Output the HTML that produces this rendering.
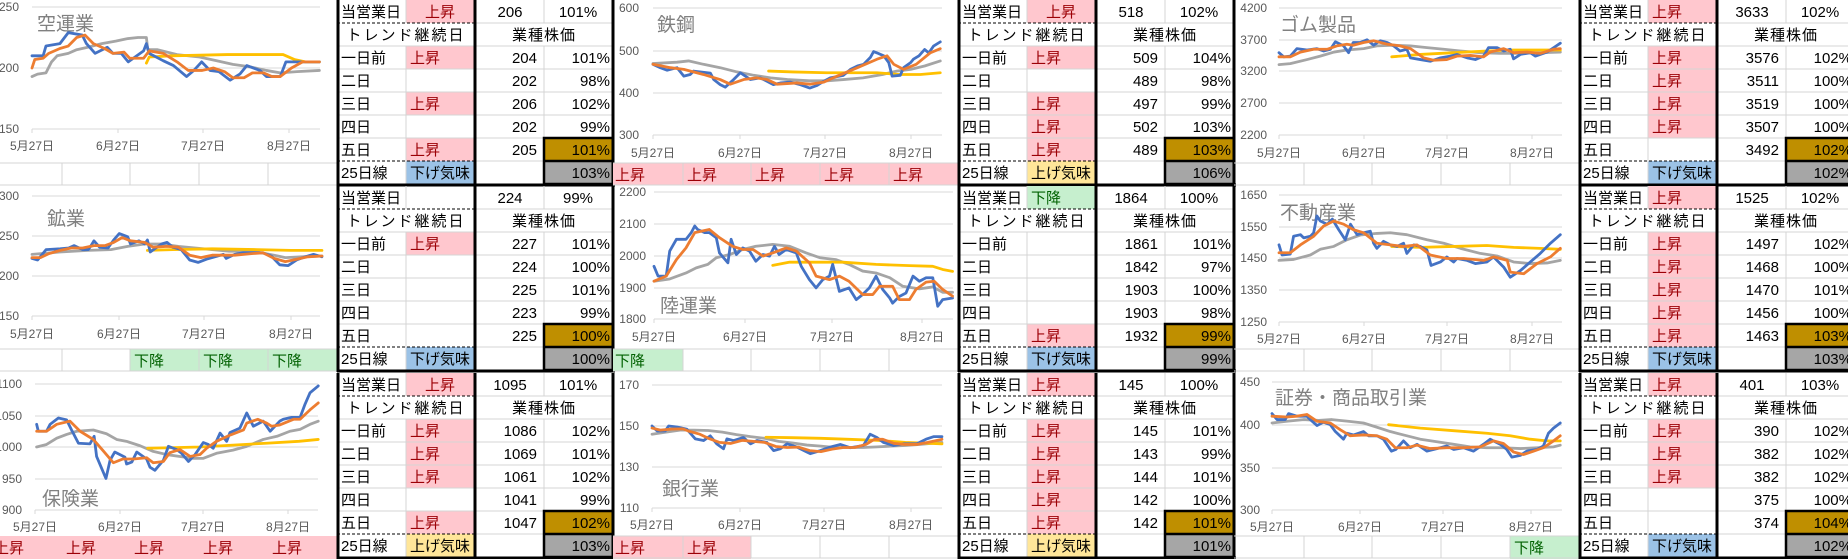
<!DOCTYPE html>
<html><head><meta charset="utf-8"><style>
html,body{margin:0;padding:0;background:#fff;}
svg{display:block;font-family:"Liberation Sans","Noto Sans CJK JP",sans-serif;}
.ax{font-size:12px;fill:#595959;}
.ti{font-size:19px;fill:#808080;}
.tb{font-size:15px;fill:#000;}
.up{font-size:15px;fill:#9c0006;}
.dn{font-size:15px;fill:#006100;}
.gr{stroke:#d9d9d9;stroke-width:1;}
.sl{fill:none;stroke-width:2.8;stroke-linejoin:round;stroke-linecap:round;vector-effect:non-scaling-stroke;}
.b{stroke:#4472c4}.o{stroke:#ed7d31}.g{stroke:#a5a5a5}.y{stroke:#ffc000}
</style></head><body>
<svg width="1848" height="559" viewBox="0 0 1848 559" xmlns="http://www.w3.org/2000/svg">
<rect width="1848" height="559" fill="#fff"/>

<!-- ================= STRIPS (bottom rows under charts) ================= -->
<defs>
<g id="strip">
<line x1="-8" y1="163" x2="337" y2="163" stroke="#d4d4d4"/>
<line x1="-8" y1="185" x2="337" y2="185" stroke="#d4d4d4"/>
<line x1="62" y1="163" x2="62" y2="185" stroke="#d4d4d4"/>
<line x1="130" y1="163" x2="130" y2="185" stroke="#d4d4d4"/>
<line x1="199" y1="163" x2="199" y2="185" stroke="#d4d4d4"/>
<line x1="268" y1="163" x2="268" y2="185" stroke="#d4d4d4"/>
</g>
<g id="tgrid">
<g stroke="#d4d4d4" stroke-width="1">
<line x1="337" y1="46" x2="613" y2="46"/><line x1="337" y1="69" x2="613" y2="69"/>
<line x1="337" y1="92" x2="613" y2="92"/><line x1="337" y1="115" x2="613" y2="115"/>
<line x1="337" y1="138" x2="613" y2="138"/><line x1="475" y1="23" x2="613" y2="23"/>
<line x1="475" y1="161" x2="613" y2="161"/>
<line x1="406" y1="0" x2="406" y2="23"/><line x1="406" y1="46" x2="406" y2="184"/>
<line x1="544" y1="0" x2="544" y2="23"/><line x1="544" y1="46" x2="544" y2="184"/>
</g>
<line x1="337" y1="23" x2="475" y2="23" stroke="#000" stroke-dasharray="3,2"/>
<line x1="337" y1="161" x2="475" y2="161" stroke="#000" stroke-dasharray="3,2"/>
<text class="tb" x="406" y="40" text-anchor="middle" fill="#404040" letter-spacing="2">トレンド継続日</text>
<text class="tb" x="544" y="40" text-anchor="middle" letter-spacing="1">業種株価</text>
<text class="tb" x="341" y="17">当営業日</text>
<text class="tb" x="341" y="63">一日前</text>
<text class="tb" x="341" y="86">二日</text>
<text class="tb" x="341" y="109">三日</text>
<text class="tb" x="341" y="132">四日</text>
<text class="tb" x="341" y="155">五日</text>
<text class="tb" x="341" y="178">25日線</text>
</g>
<g id="tborder" fill="none" stroke="#000">
<line x1="338" y1="0" x2="338" y2="186" stroke-width="3"/>
<line x1="475" y1="0" x2="475" y2="186" stroke-width="3"/>
<line x1="613" y1="0" x2="613" y2="186" stroke-width="3"/>
<line x1="337" y1="185" x2="615" y2="185" stroke-width="3"/>
<rect x="544" y="138" width="69" height="46" stroke-width="2.5"/>
<line x1="544" y1="161" x2="613" y2="161" stroke-width="2.5"/>
</g>
</defs>

<!-- ======== Table helper macro expanded per panel ======== -->
<!-- G1R1 -->
<g transform="translate(0,0)">
<use href="#strip"/>
<rect x="406" y="0" width="69" height="23" fill="#ffc7ce"/>
<rect x="406" y="46" width="69" height="23" fill="#ffc7ce"/>
<rect x="406" y="92" width="69" height="23" fill="#ffc7ce"/>
<rect x="406" y="138" width="69" height="23" fill="#ffc7ce"/>
<rect x="406" y="161" width="69" height="23" fill="#9bc2e6"/>
<rect x="544" y="138" width="69" height="23" fill="#bf8f00"/>
<rect x="544" y="161" width="69" height="23" fill="#a6a6a6"/>
<use href="#tgrid"/>
<text class="up" x="440" y="17" text-anchor="middle">上昇</text>
<text class="up" x="410" y="63">上昇</text><text class="up" x="410" y="109">上昇</text><text class="up" x="410" y="155">上昇</text>
<text class="tb" x="410" y="178" fill="#1f2d4a">下げ気味</text>
<text class="tb" x="510" y="17" text-anchor="middle">206</text><text class="tb" x="578" y="17" text-anchor="middle">101%</text>
<g class="tb" text-anchor="end"><text x="537" y="63">204</text><text x="537" y="86">202</text><text x="537" y="109">206</text><text x="537" y="132">202</text><text x="537" y="155">205</text>
<text x="610" y="63">101%</text><text x="610" y="86">98%</text><text x="610" y="109">102%</text><text x="610" y="132">99%</text><text x="610" y="155">101%</text><text x="610" y="178">103%</text></g>
<use href="#tborder"/>
</g>
<!-- G2R1 -->
<g transform="translate(621,0)">
<rect x="-8" y="163" width="345" height="22" fill="#ffc7ce"/>
<use href="#strip"/>
<g class="up"><text x="-6" y="180">上昇</text><text x="66" y="180">上昇</text><text x="134" y="180">上昇</text><text x="203" y="180">上昇</text><text x="272" y="180">上昇</text></g>
<rect x="406" y="0" width="69" height="23" fill="#ffc7ce"/>
<rect x="406" y="46" width="69" height="23" fill="#ffc7ce"/>
<rect x="406" y="92" width="69" height="69" fill="#ffc7ce"/>
<rect x="406" y="161" width="69" height="23" fill="#ffe699"/>
<rect x="544" y="138" width="69" height="23" fill="#bf8f00"/>
<rect x="544" y="161" width="69" height="23" fill="#a6a6a6"/>
<use href="#tgrid"/>
<text class="up" x="440" y="17" text-anchor="middle">上昇</text>
<text class="up" x="410" y="63">上昇</text><text class="up" x="410" y="109">上昇</text><text class="up" x="410" y="132">上昇</text><text class="up" x="410" y="155">上昇</text>
<text class="tb" x="410" y="178" fill="#9c5700">上げ気味</text>
<text class="tb" x="510" y="17" text-anchor="middle">518</text><text class="tb" x="578" y="17" text-anchor="middle">102%</text>
<g class="tb" text-anchor="end"><text x="537" y="63">509</text><text x="537" y="86">489</text><text x="537" y="109">497</text><text x="537" y="132">502</text><text x="537" y="155">489</text>
<text x="610" y="63">104%</text><text x="610" y="86">98%</text><text x="610" y="109">99%</text><text x="610" y="132">103%</text><text x="610" y="155">103%</text><text x="610" y="178">106%</text></g>
<use href="#tborder"/>
</g>
<!-- G3R1 -->
<g transform="translate(1242,0)">
<use href="#strip"/>
<rect x="406" y="0" width="69" height="23" fill="#ffc7ce"/>
<rect x="406" y="46" width="69" height="92" fill="#ffc7ce"/>
<rect x="406" y="161" width="69" height="23" fill="#9bc2e6"/>
<rect x="544" y="138" width="69" height="23" fill="#bf8f00"/>
<rect x="544" y="161" width="69" height="23" fill="#a6a6a6"/>
<use href="#tgrid"/>
<text class="up" x="410" y="17">上昇</text>
<text class="up" x="410" y="63">上昇</text><text class="up" x="410" y="86">上昇</text><text class="up" x="410" y="109">上昇</text><text class="up" x="410" y="132">上昇</text>
<text class="tb" x="410" y="178" fill="#1f2d4a">下げ気味</text>
<text class="tb" x="510" y="17" text-anchor="middle">3633</text><text class="tb" x="578" y="17" text-anchor="middle">102%</text>
<g class="tb" text-anchor="end"><text x="537" y="63">3576</text><text x="537" y="86">3511</text><text x="537" y="109">3519</text><text x="537" y="132">3507</text><text x="537" y="155">3492</text>
<text x="610" y="63">102%</text><text x="610" y="86">100%</text><text x="610" y="109">100%</text><text x="610" y="132">100%</text><text x="610" y="155">102%</text><text x="610" y="178">102%</text></g>
<use href="#tborder"/>
</g>
<!-- G1R2 -->
<g transform="translate(0,186)">
<rect x="130" y="163" width="207" height="22" fill="#c6efce"/>
<use href="#strip"/>
<g class="dn"><text x="134" y="180">下降</text><text x="203" y="180">下降</text><text x="272" y="180">下降</text></g>
<rect x="406" y="46" width="69" height="23" fill="#ffc7ce"/>
<rect x="406" y="161" width="69" height="23" fill="#9bc2e6"/>
<rect x="544" y="138" width="69" height="23" fill="#bf8f00"/>
<rect x="544" y="161" width="69" height="23" fill="#a6a6a6"/>
<use href="#tgrid"/>
<text class="up" x="410" y="63">上昇</text>
<text class="tb" x="410" y="178" fill="#1f2d4a">下げ気味</text>
<text class="tb" x="510" y="17" text-anchor="middle">224</text><text class="tb" x="578" y="17" text-anchor="middle">99%</text>
<g class="tb" text-anchor="end"><text x="537" y="63">227</text><text x="537" y="86">224</text><text x="537" y="109">225</text><text x="537" y="132">223</text><text x="537" y="155">225</text>
<text x="610" y="63">101%</text><text x="610" y="86">100%</text><text x="610" y="109">101%</text><text x="610" y="132">99%</text><text x="610" y="155">100%</text><text x="610" y="178">100%</text></g>
<use href="#tborder"/>
</g>
<!-- G2R2 -->
<g transform="translate(621,186)">
<rect x="-8" y="163" width="70" height="22" fill="#c6efce"/>
<use href="#strip"/>
<text class="dn" x="-6" y="180">下降</text>
<rect x="406" y="0" width="69" height="23" fill="#c6efce"/>
<rect x="406" y="138" width="69" height="23" fill="#ffc7ce"/>
<rect x="406" y="161" width="69" height="23" fill="#9bc2e6"/>
<rect x="544" y="138" width="69" height="23" fill="#bf8f00"/>
<rect x="544" y="161" width="69" height="23" fill="#a6a6a6"/>
<use href="#tgrid"/>
<text class="dn" x="410" y="17">下降</text>
<text class="up" x="410" y="155">上昇</text>
<text class="tb" x="410" y="178" fill="#1f2d4a">下げ気味</text>
<text class="tb" x="510" y="17" text-anchor="middle">1864</text><text class="tb" x="578" y="17" text-anchor="middle">100%</text>
<g class="tb" text-anchor="end"><text x="537" y="63">1861</text><text x="537" y="86">1842</text><text x="537" y="109">1903</text><text x="537" y="132">1903</text><text x="537" y="155">1932</text>
<text x="610" y="63">101%</text><text x="610" y="86">97%</text><text x="610" y="109">100%</text><text x="610" y="132">98%</text><text x="610" y="155">99%</text><text x="610" y="178">99%</text></g>
<use href="#tborder"/>
</g>
<!-- G3R2 -->
<g transform="translate(1242,186)">
<use href="#strip"/>
<rect x="406" y="0" width="69" height="23" fill="#ffc7ce"/>
<rect x="406" y="46" width="69" height="115" fill="#ffc7ce"/>
<rect x="406" y="161" width="69" height="23" fill="#9bc2e6"/>
<rect x="544" y="138" width="69" height="23" fill="#bf8f00"/>
<rect x="544" y="161" width="69" height="23" fill="#a6a6a6"/>
<use href="#tgrid"/>
<text class="up" x="410" y="17">上昇</text>
<text class="up" x="410" y="63">上昇</text><text class="up" x="410" y="86">上昇</text><text class="up" x="410" y="109">上昇</text><text class="up" x="410" y="132">上昇</text><text class="up" x="410" y="155">上昇</text>
<text class="tb" x="410" y="178" fill="#1f2d4a">下げ気味</text>
<text class="tb" x="510" y="17" text-anchor="middle">1525</text><text class="tb" x="578" y="17" text-anchor="middle">102%</text>
<g class="tb" text-anchor="end"><text x="537" y="63">1497</text><text x="537" y="86">1468</text><text x="537" y="109">1470</text><text x="537" y="132">1456</text><text x="537" y="155">1463</text>
<text x="610" y="63">102%</text><text x="610" y="86">100%</text><text x="610" y="109">101%</text><text x="610" y="132">100%</text><text x="610" y="155">103%</text><text x="610" y="178">103%</text></g>
<use href="#tborder"/>
</g>
<!-- G1R3 -->
<g transform="translate(0,373)">
<rect x="-8" y="163" width="345" height="23" fill="#ffc7ce"/>
<g class="up"><text x="-6" y="180">上昇</text><text x="66" y="180">上昇</text><text x="134" y="180">上昇</text><text x="203" y="180">上昇</text><text x="272" y="180">上昇</text></g>
<rect x="406" y="0" width="69" height="23" fill="#ffc7ce"/>
<rect x="406" y="46" width="69" height="69" fill="#ffc7ce"/>
<rect x="406" y="138" width="69" height="23" fill="#ffc7ce"/>
<rect x="406" y="161" width="69" height="23" fill="#ffe699"/>
<rect x="544" y="138" width="69" height="23" fill="#bf8f00"/>
<rect x="544" y="161" width="69" height="23" fill="#a6a6a6"/>
<use href="#tgrid"/>
<text class="up" x="440" y="17" text-anchor="middle">上昇</text>
<text class="up" x="410" y="63">上昇</text><text class="up" x="410" y="86">上昇</text><text class="up" x="410" y="109">上昇</text><text class="up" x="410" y="155">上昇</text>
<text class="tb" x="410" y="178" fill="#9c5700">上げ気味</text>
<text class="tb" x="510" y="17" text-anchor="middle">1095</text><text class="tb" x="578" y="17" text-anchor="middle">101%</text>
<g class="tb" text-anchor="end"><text x="537" y="63">1086</text><text x="537" y="86">1069</text><text x="537" y="109">1061</text><text x="537" y="132">1041</text><text x="537" y="155">1047</text>
<text x="610" y="63">102%</text><text x="610" y="86">101%</text><text x="610" y="109">102%</text><text x="610" y="132">99%</text><text x="610" y="155">102%</text><text x="610" y="178">103%</text></g>
<use href="#tborder"/>
</g>
<!-- G2R3 -->
<g transform="translate(621,373)">
<rect x="-8" y="163" width="138" height="23" fill="#ffc7ce"/>
<use href="#strip"/>
<g class="up"><text x="-6" y="180">上昇</text><text x="66" y="180">上昇</text></g>
<rect x="406" y="0" width="69" height="23" fill="#ffc7ce"/>
<rect x="406" y="46" width="69" height="115" fill="#ffc7ce"/>
<rect x="406" y="161" width="69" height="23" fill="#ffe699"/>
<rect x="544" y="138" width="69" height="23" fill="#bf8f00"/>
<rect x="544" y="161" width="69" height="23" fill="#a6a6a6"/>
<use href="#tgrid"/>
<text class="up" x="410" y="17">上昇</text>
<text class="up" x="410" y="63">上昇</text><text class="up" x="410" y="86">上昇</text><text class="up" x="410" y="109">上昇</text><text class="up" x="410" y="132">上昇</text><text class="up" x="410" y="155">上昇</text>
<text class="tb" x="410" y="178" fill="#9c5700">上げ気味</text>
<text class="tb" x="510" y="17" text-anchor="middle">145</text><text class="tb" x="578" y="17" text-anchor="middle">100%</text>
<g class="tb" text-anchor="end"><text x="537" y="63">145</text><text x="537" y="86">143</text><text x="537" y="109">144</text><text x="537" y="132">142</text><text x="537" y="155">142</text>
<text x="610" y="63">101%</text><text x="610" y="86">99%</text><text x="610" y="109">101%</text><text x="610" y="132">100%</text><text x="610" y="155">101%</text><text x="610" y="178">101%</text></g>
<use href="#tborder"/>
</g>
<!-- G3R3 -->
<g transform="translate(1242,373)">
<rect x="268" y="163" width="69" height="23" fill="#c6efce"/>
<use href="#strip"/>
<text class="dn" x="272" y="180">下降</text>
<rect x="406" y="0" width="69" height="23" fill="#ffc7ce"/>
<rect x="406" y="46" width="69" height="69" fill="#ffc7ce"/>
<rect x="406" y="161" width="69" height="23" fill="#9bc2e6"/>
<rect x="544" y="138" width="69" height="23" fill="#bf8f00"/>
<rect x="544" y="161" width="69" height="23" fill="#a6a6a6"/>
<use href="#tgrid"/>
<text class="up" x="410" y="17">上昇</text>
<text class="up" x="410" y="63">上昇</text><text class="up" x="410" y="86">上昇</text><text class="up" x="410" y="109">上昇</text>
<text class="tb" x="410" y="178" fill="#1f2d4a">下げ気味</text>
<text class="tb" x="510" y="17" text-anchor="middle">401</text><text class="tb" x="578" y="17" text-anchor="middle">103%</text>
<g class="tb" text-anchor="end"><text x="537" y="63">390</text><text x="537" y="86">382</text><text x="537" y="109">382</text><text x="537" y="132">375</text><text x="537" y="155">374</text>
<text x="610" y="63">102%</text><text x="610" y="86">102%</text><text x="610" y="109">102%</text><text x="610" y="132">100%</text><text x="610" y="155">104%</text><text x="610" y="178">102%</text></g>
<use href="#tborder"/>
</g>

<!-- ================= CHARTS ================= -->
<!-- G1R1 空運業 -->
<g transform="translate(0,0)">
<g class="gr"><line x1="32" y1="7" x2="320" y2="7"/><line x1="32" y1="68" x2="320" y2="68"/><line x1="32" y1="129" x2="320" y2="129"/>
<line x1="32" y1="129" x2="32" y2="133"/><line x1="118" y1="129" x2="118" y2="133"/><line x1="203" y1="129" x2="203" y2="133"/><line x1="289" y1="129" x2="289" y2="133"/></g>
<g class="ax" text-anchor="end"><text x="19" y="11">250</text><text x="19" y="72">200</text><text x="19" y="133">150</text></g>
<g class="ax" text-anchor="middle"><text x="32" y="150">5月27日</text><text x="118" y="150">6月27日</text><text x="203" y="150">7月27日</text><text x="289" y="150">8月27日</text></g>
<text class="ti" x="37" y="30">空運業</text>
<g transform="translate(32,129) scale(2.79,-1.22) translate(0,-150)">
<polyline class="sl g" points="0,193 2,195 5,196 7,205 9,210 13,212 16,215 20,217 25,220 30,222 34,224 38,225 41,225 41.5,215 45,215 52,211 60,209 66,206 72,203 78,201 84,198 89,196 95,197 103,198"/>
<polyline class="sl y" points="41,204 42,209 50,210 70,211 90,211 94,207 98,205 103,205"/>
<polyline class="sl b" points="0,210 4,210 5,218 10,220 13,229 18,227 19.5,220 22.6,212 27,217 29,212 32,212 34.5,205 40,214 41,220 42,212 47,206 50.7,202 55.4,193 58,198 60.8,205 63.8,198 67,197 71,190 74.5,195 77,202 81.7,198 84,193 89,193 91,205 96,205 103,205"/>
<polyline class="sl o" points="0,200 1,207 4,208 6,212 10,216 13,218 16,225 19,227 22,220 26,216 29,212 33,213 35,208 40,208 42,214 47,212 52,205 56,198 61,198 65,200 69,197 72,192 76,192 79,196 83,196 86,193 89,193 93,200 97,205 103,205"/>
</g></g>

<!-- G1R2 鉱業 -->
<g transform="translate(0,186)">
<g class="gr"><line x1="32" y1="10" x2="320" y2="10"/><line x1="32" y1="50" x2="320" y2="50"/><line x1="32" y1="90" x2="320" y2="90"/><line x1="32" y1="130" x2="320" y2="130"/>
<line x1="32" y1="130" x2="32" y2="134"/><line x1="119" y1="130" x2="119" y2="134"/><line x1="204" y1="130" x2="204" y2="134"/><line x1="291" y1="130" x2="291" y2="134"/></g>
<g class="ax" text-anchor="end"><text x="19" y="14">300</text><text x="19" y="54">250</text><text x="19" y="94">200</text><text x="19" y="134">150</text></g>
<g class="ax" text-anchor="middle"><text x="32" y="152">5月27日</text><text x="119" y="152">6月27日</text><text x="204" y="152">7月27日</text><text x="291" y="152">8月27日</text></g>
<text class="ti" x="47" y="39">鉱業</text>
<g transform="translate(32,130) scale(2.815,-0.8) translate(0,-150)">
<polyline class="sl g" points="0,227 10,230 20,232 28,233 34,237 40,240 46,240 52,237 58,235 64,233 70,231 76,231 80,230 86,226 90,223 96,224 103,225"/>
<polyline class="sl y" points="41,232 50,233 64,234 80,233 92,232 103,232"/>
<polyline class="sl b" points="0,222 2,220 5,233 10,234 13,235 15,238 18,233 20,233 21,238 22,244 24,236 27,235 29,245 31,253 34,249 35,240 38,244 40,240 41,245 42,230 44,235 46,240 48,242 50,236 53,233 56,220 59,217 62,221 65,224 68,227 69,222 72,227 75,229 79,229 82,229 85,225 88,214 91,213 94,220 97,224 100,227 103,224"/>
<polyline class="sl o" points="0,223 3,223 6,228 10,232 14,235 18,235 22,238 26,238 29,242 32,248 35,244 40,242 43,236 48,237 52,236 56,226 60,223 64,226 68,226 72,226 78,228 82,229 86,222 90,218 94,221 98,224 103,225"/>
</g></g>

<!-- G1R3 保険業 -->
<g transform="translate(0,373)">
<g class="gr"><line x1="35" y1="11" x2="318" y2="11"/><line x1="35" y1="43" x2="318" y2="43"/><line x1="35" y1="74" x2="318" y2="74"/><line x1="35" y1="106" x2="318" y2="106"/><line x1="35" y1="137" x2="318" y2="137"/>
<line x1="35" y1="137" x2="35" y2="141"/><line x1="120" y1="137" x2="120" y2="141"/><line x1="203" y1="137" x2="203" y2="141"/><line x1="288" y1="137" x2="288" y2="141"/></g>
<g class="ax" text-anchor="end"><text x="22" y="15">1100</text><text x="22" y="47">1050</text><text x="22" y="78">1000</text><text x="22" y="110">950</text><text x="22" y="141">900</text></g>
<g class="ax" text-anchor="middle"><text x="35" y="158">5月27日</text><text x="120" y="158">6月27日</text><text x="203" y="158">7月27日</text><text x="288" y="158">8月27日</text></g>
<text class="ti" x="42" y="132">保険業</text>
<g transform="translate(35,137) scale(2.75,-0.63) translate(0,-900)">
<polyline class="sl g" points="0.6,1000 4.2,1004 7.9,1014 11.5,1020 15.2,1025 21.2,1027 26,1021 29.7,1012 33.3,1009 38.2,1002 43,993 47.9,988 52.7,985 57.6,982 61.2,982 66,990 72,995 77,1001 83,1012 88,1017 92.7,1025 96.4,1028 100,1036 103,1041"/>
<polyline class="sl y" points="41,998 60,1000 84,1006 96,1009 103,1012"/>
<polyline class="sl b" points="0.6,1036 1.2,1025 4.2,1025 5.5,1036 8.5,1046 11.5,1043 13.3,1027 15.8,1006 20,1005 21.5,1017 22.4,985 25.8,950 27.3,979 29,992 32.7,984 33.3,973 35.2,976 37,992 40.6,981 41.8,968 43.6,963 46.7,979 48.5,1001 51.5,996 53.3,990 55.8,977 58.2,988 61.2,1007 63,1004 64.8,998 67.3,1022 69.7,1009 70.9,1023 74.5,1030 77,1054 79.4,1033 83,1041 85.5,1025 89,1041 90.3,1044 93.3,1047 96.4,1047 98.2,1068 100,1086 103,1097"/>
<polyline class="sl o" points="0.6,1025 4.2,1025 7.9,1036 12.7,1041 16.4,1025 21.2,1012 24.8,994 28.5,975 32,981 35.8,981 40.6,983 43,975 46.7,977 49,991 52.7,996 56.4,985 60,988 62.4,998 66,1009 71,1019 75.8,1027 77,1038 81,1044 84.2,1038 86,1033 89,1035 94,1044 96.4,1044 100,1059 103,1070"/>
</g></g>

<!-- G2R1 鉄鋼 -->
<g transform="translate(621,0)">
<g class="gr"><line x1="32" y1="8" x2="321" y2="8"/><line x1="32" y1="51" x2="321" y2="51"/><line x1="32" y1="93" x2="321" y2="93"/><line x1="32" y1="135" x2="321" y2="135"/>
<line x1="32" y1="135" x2="32" y2="139"/><line x1="119" y1="135" x2="119" y2="139"/><line x1="204" y1="135" x2="204" y2="139"/><line x1="290" y1="135" x2="290" y2="139"/></g>
<g class="ax" text-anchor="end"><text x="18" y="12">600</text><text x="18" y="55">500</text><text x="18" y="97">400</text><text x="18" y="139">300</text></g>
<g class="ax" text-anchor="middle"><text x="32" y="157">5月27日</text><text x="119" y="157">6月27日</text><text x="204" y="157">7月27日</text><text x="290" y="157">8月27日</text></g>
<text class="ti" x="36" y="31">鉄鋼</text>
<g transform="translate(32,135) scale(2.8,-0.4233) translate(0,-300)">
<polyline class="sl g" points="0,469 8.6,472 12.7,475 18,467 24,459 30,449 36,441 42,435 48,431 56,428 62,428 68,431 75,435 82,443 87,451 92,455 97,463 102.6,475"/>
<polyline class="sl y" points="41.3,451 50,449 62,447 80,447 88,443 95.5,443 102.6,447"/>
<polyline class="sl b" points="0,467 2.6,459 5,453 8.6,459 11,439 13.3,443 14.5,451 20.5,446 21.7,431 24,419 25.8,413 28.8,431 31.2,447 34.8,431 38.3,435 40.7,427 43,419 45.5,423 49,425 52.6,419 56,411 58.6,417 61,427 63.3,435 68,441 70.5,455 73,463 75.2,467 77.6,483 78.8,497 80,494 82.4,487 84.2,471 85.4,439 88.3,441 89.5,459 92,471 93,479 95,487 97,502 98.5,494 100.2,510 102.6,520"/>
<polyline class="sl o" points="0,467 6.2,459 11,455 18,443 24,431 27.6,420 32.4,431 37,435 40.7,431 44.3,420 51.4,423 56,420 61,425 65.7,439 73,459 80,479 83.6,487 86,467 89.5,455 94,467 99,494 102.6,504"/>
</g></g>

<!-- G2R2 陸運業 -->
<g transform="translate(621,186)">
<g class="gr"><line x1="33" y1="6" x2="332" y2="6"/><line x1="33" y1="38" x2="332" y2="38"/><line x1="33" y1="70" x2="332" y2="70"/><line x1="33" y1="102" x2="332" y2="102"/><line x1="33" y1="133" x2="332" y2="133"/>
<line x1="33" y1="133" x2="33" y2="137"/><line x1="124" y1="133" x2="124" y2="137"/><line x1="211" y1="133" x2="211" y2="137"/><line x1="301" y1="133" x2="301" y2="137"/></g>
<g class="ax" text-anchor="end"><text x="25" y="10">2200</text><text x="25" y="42">2100</text><text x="25" y="74">2000</text><text x="25" y="106">1900</text><text x="25" y="137">1800</text></g>
<g class="ax" text-anchor="middle"><text x="33" y="155">5月27日</text><text x="124" y="155">6月27日</text><text x="211" y="155">7月27日</text><text x="301" y="155">8月27日</text></g>
<text class="ti" x="39" y="126">陸運業</text>
<g transform="translate(33,133) scale(2.91,-0.3175) translate(0,-1800)">
<polyline class="sl g" points="0,1919 5.4,1926 11,1945 14.5,1961 18.5,1972 21.4,1993 26,2003 30.5,2019 35,2029 40.8,2035 46.6,2029 52.3,2008 57,1993 62.6,1987 67,1972 71.7,1951 76.3,1945 81,1930 85.5,1903 91.2,1895 95.8,1901 99.2,1884 102.6,1884"/>
<polyline class="sl y" points="40.8,1969 46.6,1979 64.9,1979 76.3,1972 87.8,1968 95.8,1966 99.2,1956 102.6,1950"/>
<polyline class="sl b" points="0,1966 1.4,1935 4.2,1935 5.4,2014 7.7,2051 11,2051 12.8,2072 14,2093 15,2082 17.4,2072 19,2072 21.4,2056 22.5,2008 25.4,1977 26.5,2051 28.3,2003 30.5,2024 32.8,2014 35,1982 37.4,2003 39.7,1998 41.4,2029 43,2003 45.4,2019 48.9,2008 50.6,1966 53.4,1924 55.7,1898 58,1924 60.3,1935 61.4,1972 63.7,1887 67,1898 69.5,1861 71.7,1877 74,1898 76.3,1935 78.6,1893 81,1866 82,1850 84.3,1871 86.6,1882 89,1935 91.2,1919 93.5,1930 95.8,1930 97.5,1840 99.2,1861 102.6,1866"/>
<polyline class="sl o" points="0,1919 4.2,1935 7.7,1987 11,2024 14,2072 19,2082 22.5,2056 27,2029 30.5,2019 34,2019 37.4,1998 40.8,2008 45.4,2024 48.9,2014 53.4,1977 55.7,1935 60.3,1924 63.7,1935 67,1919 71.7,1877 75.2,1877 77.5,1903 82,1903 84.3,1861 87.8,1861 90,1893 93.5,1916 96.3,1919 99.2,1893 102.6,1872"/>
</g></g>

<!-- G2R3 銀行業 -->
<g transform="translate(621,373)">
<g class="gr"><line x1="31" y1="12" x2="321" y2="12"/><line x1="31" y1="53" x2="321" y2="53"/><line x1="31" y1="94" x2="321" y2="94"/><line x1="31" y1="135" x2="321" y2="135"/>
<line x1="31" y1="135" x2="31" y2="139"/><line x1="119" y1="135" x2="119" y2="139"/><line x1="203" y1="135" x2="203" y2="139"/><line x1="290" y1="135" x2="290" y2="139"/></g>
<g class="ax" text-anchor="end"><text x="18" y="16">170</text><text x="18" y="57">150</text><text x="18" y="98">130</text><text x="18" y="139">110</text></g>
<g class="ax" text-anchor="middle"><text x="31" y="156">5月27日</text><text x="119" y="156">6月27日</text><text x="203" y="156">7月27日</text><text x="290" y="156">8月27日</text></g>
<text class="ti" x="41" y="122">銀行業</text>
<g transform="translate(31,135) scale(2.815,-2.05) translate(0,-110)">
<polyline class="sl g" points="0,146 5,147 10,148 15,148 20,147.8 25,147 30,145.8 35,144.8 40,144 45,142.5 50,141.7 55,140.7 60,140.2 65,139.5 70,139.5 75,139.5 80,139.8 85,140.2 90,140.5 95,141 103,142"/>
<polyline class="sl y" points="40.5,144.5 50,144.3 60,144 70,143.5 80,143 90,142 103,141.3"/>
<polyline class="sl b" points="0,150 1.8,147.6 4.7,147.6 5.9,150 8.9,149.5 12.4,148.4 15.4,143.7 18.3,142.9 20.7,145.2 23,141.3 25.4,138.9 26.6,143.7 29,142.9 32.5,144.4 35,141.3 37.3,142.9 40.8,142 43.2,138 45.6,138.9 48,141.3 51.5,139.7 55,137.3 56.2,136.5 59.8,138 63.3,139.7 66.9,141 70.4,139.4 75.1,140.5 77.5,146 79.9,144.4 82.2,142 85.8,140.5 89.3,141.3 94,141.3 97.6,143.7 100,144.8 103,144.8"/>
<polyline class="sl o" points="0,149 3,148 7,148.5 11,148.6 13,147.5 17,146 20,144 24,142 28,141.5 32,143 36,142.5 40,142 44,140 48,139.5 52,139.7 56,138 60,137.5 64,138.7 68,139.5 72,139.5 76,141 79,143.5 82,143.5 86,141.5 90,141 94,141 98,142 103,143.5"/>
</g></g>

<!-- G3R1 ゴム製品 -->
<g transform="translate(1242,0)">
<g class="gr"><line x1="37" y1="8" x2="320" y2="8"/><line x1="37" y1="40" x2="320" y2="40"/><line x1="37" y1="71" x2="320" y2="71"/><line x1="37" y1="103" x2="320" y2="103"/><line x1="37" y1="135" x2="320" y2="135"/>
<line x1="37" y1="135" x2="37" y2="139"/><line x1="122" y1="135" x2="122" y2="139"/><line x1="205" y1="135" x2="205" y2="139"/><line x1="290" y1="135" x2="290" y2="139"/></g>
<g class="ax" text-anchor="end"><text x="25" y="12">4200</text><text x="25" y="44">3700</text><text x="25" y="75">3200</text><text x="25" y="107">2700</text><text x="25" y="139">2200</text></g>
<g class="ax" text-anchor="middle"><text x="37" y="157">5月27日</text><text x="122" y="157">6月27日</text><text x="205" y="157">7月27日</text><text x="290" y="157">8月27日</text></g>
<text class="ti" x="38" y="31">ゴム製品</text>
<g transform="translate(37,135) scale(2.75,-0.0635) translate(0,-2200)">
<polyline class="sl g" points="0,3308 4.1,3324 10.2,3388 15,3442 20,3506 24.7,3539 30.8,3560 35.6,3603 41.7,3614 47.8,3603 53.8,3576 59.9,3550 66,3523 73.2,3496 80.5,3485 87.8,3485 95,3496 102.3,3506"/>
<polyline class="sl y" points="41,3431 51.4,3469 63.5,3496 75.6,3523 85.3,3539 95,3539 102.3,3539"/>
<polyline class="sl b" points="0,3496 1.7,3431 4.1,3442 6.5,3560 10.2,3539 13.8,3560 16.2,3523 18.7,3550 20.5,3668 23.5,3603 25.3,3496 27,3657 29.6,3657 32,3700 34.4,3614 36.8,3684 39.3,3657 41.7,3603 44,3523 46.5,3550 47.8,3415 51.4,3388 55,3361 58.7,3415 62.3,3442 64.7,3469 68.4,3415 71.4,3388 74.4,3442 76.2,3576 79.3,3576 81.7,3523 84.1,3550 85.3,3399 87.8,3469 91.4,3496 93.2,3442 97.5,3506 99.9,3576 102.3,3646"/>
<polyline class="sl o" points="0,3431 4.1,3431 7.8,3506 12.6,3550 17.5,3550 21,3603 24.7,3630 27,3614 30.8,3657 34.4,3684 39.3,3630 44,3603 47.8,3560 52.6,3415 56.2,3377 61,3388 64.7,3442 69.6,3453 74.4,3431 76.8,3506 81.7,3560 85.3,3496 90.2,3506 95,3485 99.9,3550 102.3,3560"/>
</g></g>

<!-- G3R2 不動産業 -->
<g transform="translate(1242,186)">
<g class="gr"><line x1="37" y1="9" x2="320" y2="9"/><line x1="37" y1="41" x2="320" y2="41"/><line x1="37" y1="72" x2="320" y2="72"/><line x1="37" y1="104" x2="320" y2="104"/><line x1="37" y1="136" x2="320" y2="136"/>
<line x1="37" y1="136" x2="37" y2="140"/><line x1="122" y1="136" x2="122" y2="140"/><line x1="205" y1="136" x2="205" y2="140"/><line x1="290" y1="136" x2="290" y2="140"/></g>
<g class="ax" text-anchor="end"><text x="25" y="13">1650</text><text x="25" y="45">1550</text><text x="25" y="76">1450</text><text x="25" y="108">1350</text><text x="25" y="140">1250</text></g>
<g class="ax" text-anchor="middle"><text x="37" y="157">5月27日</text><text x="122" y="157">6月27日</text><text x="205" y="157">7月27日</text><text x="290" y="157">8月27日</text></g>
<text class="ti" x="38" y="33">不動産業</text>
<g transform="translate(37,136) scale(2.75,-0.3175) translate(0,-1250)">
<polyline class="sl g" points="0,1444 5.3,1447 11.4,1461 15,1479 19.9,1488 24.7,1509 29.6,1524 35.6,1529 40.5,1531 46.5,1525 53.8,1509 59.9,1498 66,1482 73.2,1466 79.3,1458 85.3,1439 91.4,1434 97.5,1436 102.3,1444"/>
<polyline class="sl y" points="41,1488 51.4,1485 63.5,1488 75.6,1491 85.3,1485 95,1482 102.3,1479"/>
<polyline class="sl b" points="0,1493 1.1,1461 4.1,1464 5.3,1520 7.8,1525 9,1515 11.4,1520 12.6,1531 13.8,1584 15,1568 17.5,1558 19.4,1574 21.7,1541 24.1,1509 26,1558 28.4,1525 30.8,1531 33.2,1536 34.4,1498 35.6,1482 38,1504 40.5,1493 42.9,1488 45.3,1498 46.5,1466 49,1493 51.4,1488 53.8,1477 55.3,1428 58.7,1439 61,1455 63.5,1439 64.7,1450 68.4,1444 71.4,1434 75.6,1439 78,1455 81.7,1423 84.1,1391 87.8,1412 91.4,1439 95,1466 98.7,1498 102.3,1525"/>
<polyline class="sl o" points="0,1468 4.1,1468 7.8,1493 12.6,1520 16.2,1552 19.9,1568 23.5,1558 27,1541 30.8,1531 35.6,1498 40.5,1493 45.3,1488 50.2,1493 55,1461 61,1450 67.2,1450 74.4,1444 78.1,1455 83,1444 84.1,1407 89,1402 93.8,1434 98.7,1455 102.3,1482"/>
</g></g>

<!-- G3R3 証券・商品取引業 -->
<g transform="translate(1242,373)">
<g class="gr"><line x1="30" y1="9" x2="320" y2="9"/><line x1="30" y1="52" x2="320" y2="52"/><line x1="30" y1="95" x2="320" y2="95"/><line x1="30" y1="137" x2="320" y2="137"/>
<line x1="30" y1="137" x2="30" y2="141"/><line x1="118" y1="137" x2="118" y2="141"/><line x1="201" y1="137" x2="201" y2="141"/><line x1="289" y1="137" x2="289" y2="141"/></g>
<g class="ax" text-anchor="end"><text x="18" y="13">450</text><text x="18" y="56">400</text><text x="18" y="99">350</text><text x="18" y="141">300</text></g>
<g class="ax" text-anchor="middle"><text x="30" y="158">5月27日</text><text x="118" y="158">6月27日</text><text x="201" y="158">7月27日</text><text x="289" y="158">8月27日</text></g>
<text class="ti" x="33" y="31">証券・商品取引業</text>
<g transform="translate(30,137) scale(2.815,-0.853) translate(0,-300)">
<polyline class="sl g" points="0,402 5.3,404 11.2,406 16.6,405 21.3,406 27,404 32.5,402 37.3,397 42,392 46.7,388 52.7,383 58.6,380 64.5,377 70.4,374 76.3,373 82.2,373 88.2,372 94.1,373 100,374 102.4,376"/>
<polyline class="sl y" points="41.4,400 52.7,396 64.5,393 76.3,390 84.6,387 91.7,383 97.6,381 102.4,381"/>
<polyline class="sl b" points="0,413 1.8,406 4.7,406 5.9,413 8.9,410 12.4,410 13.6,406 16,399 18.3,403 20.7,400 22.5,392 25.4,383 26.6,390 29,388 32.5,392 34.3,387 37.3,387 39.6,383 42.4,369 44,371 46.7,381 49.1,373 51.5,377 55,369 58.6,372 62.1,375 64.5,371 68,373 71.6,369 75.1,377 77.5,383 81.1,377 83.4,371 85.2,362 88.2,364 90.5,369 94.1,371 96.4,375 98.2,390 100,396 102.4,402"/>
<polyline class="sl o" points="0,410 5.3,409 8.9,410 12.4,412 16,404 20.7,402 24.3,394 27.8,387 32.5,388 37.3,387 40.8,383 43.8,373 47.9,373 51.5,376 56.2,372 62.1,373 68,373 74,374 78.7,381 82.2,378 85.8,368 89.3,365 92.9,369 96.4,373 100,381 102.4,387"/>
</g></g>

</svg>
</body></html>
